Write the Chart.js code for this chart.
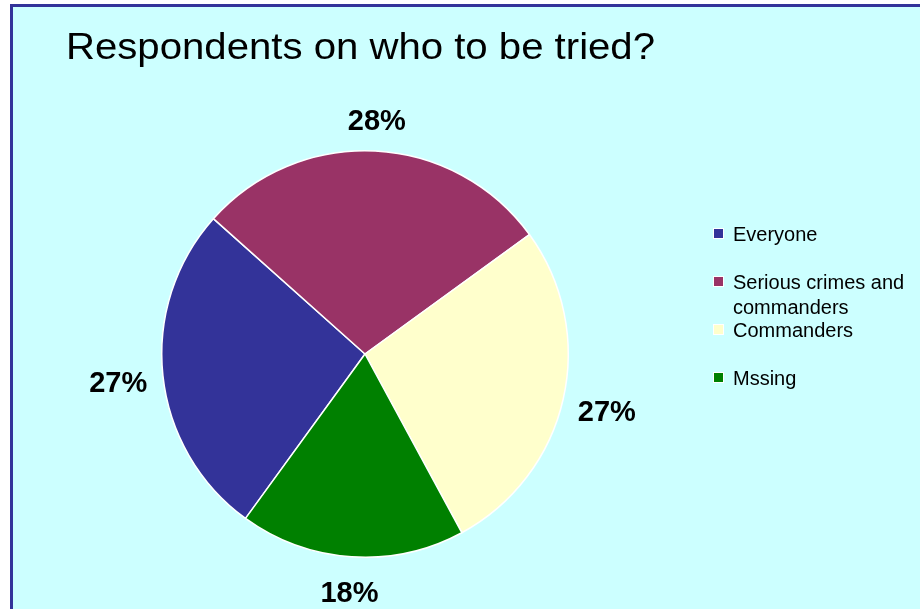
<!DOCTYPE html>
<html>
<head>
<meta charset="utf-8">
<title>Respondents on who to be tried?</title>
<script src="https://cdn.jsdelivr.net/npm/chart.js@4.4.0/dist/chart.umd.min.js"></script>
<style>
	html, body { margin:0; padding:0; background:#fff; width:920px; height:609px; overflow:hidden; }
	#frame { position:absolute; left:10px; top:4px; width:940px; height:640px; background:#ccffff;
		border-left:3px solid #333399; border-top:3px solid #333399; }
	#chart { position:absolute; left:0; top:0; }
</style>
</head>
<body>
<div id="frame"></div>
<canvas id="chart" width="920" height="609"></canvas>
<script>
// Data
const titleText = 'Respondents on who to be tried?';
const categories = ['Everyone', 'Serious crimes and commanders', 'Commanders', 'Mssing'];
const shares = [26.6, 28.4, 27.1, 17.9];
const sliceColors = ['#333399', '#993366', '#ffffcc', '#008000'];

(function(){
	const FONT = '"Liberation Sans", Arial, sans-serif';

	// title, legend and percentage labels drawn after the pie
	const decorations = {
		id: 'decorations',
		afterDraw(chart){
			const ctx = chart.ctx;
			ctx.save();
			ctx.fillStyle = '#000';

			// title, squeezed to the width it has in the picture
			ctx.font = '37px ' + FONT;
			ctx.textBaseline = 'alphabetic';
			ctx.textAlign = 'left';
			const tw = ctx.measureText(titleText).width;
			const sx = 589 / tw;
			ctx.save();
			ctx.translate(66, 59);
			ctx.scale(sx, 1);
			ctx.fillText(titleText, 0, 0);
			ctx.restore();

			// percentage labels outside each slice
			const meta = chart.getDatasetMeta(0);
			const total = shares.reduce((a,b)=>a+b, 0);
			ctx.font = 'bold 29px ' + FONT;
			ctx.textAlign = 'center';
			ctx.textBaseline = 'middle';
			meta.data.forEach((arc, i)=>{
				const mid = (arc.startAngle + arc.endAngle) / 2;
				const s = Math.abs(Math.cos(mid));
				const dist = arc.outerRadius + 32 + 13 * s;
				const x = arc.x + Math.cos(mid) * dist;
				const y = arc.y + Math.sin(mid) * dist + 4;
				ctx.fillText(Math.round(shares[i] / total * 100) + '%', x, y);
			});

			// legend
			ctx.font = '20px ' + FONT;
			ctx.textAlign = 'left';
			ctx.textBaseline = 'alphabetic';
			const lx = 714, tx = 733, y0 = 241, step = 48, lineH = 25, maxW = 180;
			categories.forEach((label, i)=>{
				const base = y0 + step * i;
				// square with thin white edge
				ctx.fillStyle = '#fff';
				ctx.fillRect(lx - 1, base - 13, 11, 11);
				ctx.fillStyle = sliceColors[i];
				ctx.fillRect(lx, base - 12, 9, 9);
				// wrap text
				ctx.fillStyle = '#000';
				const words = label.split(' ');
				let line = '', ly = base;
				words.forEach(w=>{
					const test = line ? line + ' ' + w : w;
					if (line && ctx.measureText(test).width > maxW){
						ctx.fillText(line, tx, ly);
						line = w; ly += lineH;
					} else line = test;
				});
				if (line) ctx.fillText(line, tx, ly);
			});
			ctx.restore();
		}
	};

	function setup(){
		const canvas = document.getElementById('chart');
		const ctx = canvas.getContext('2d');
		new Chart(ctx, {
			type: 'pie',
			data: {
				labels: categories,
				datasets: [{ data: shares, backgroundColor: sliceColors, borderColor: '#ffffff', borderWidth: 1.5 }]
			},
			options: {
				responsive: false,
				animation: false,
				rotation: 216,
				layout: { padding: { left: 161, right: 351, top: 150, bottom: 51 } },
				plugins: { legend: { display: false }, title: { display: false }, tooltip: { enabled: false } }
			},
			plugins: [decorations]
		});
	}

	if (document.readyState === 'loading') document.addEventListener('DOMContentLoaded', setup);
	else setup();
})();
</script>
</body>
</html>
